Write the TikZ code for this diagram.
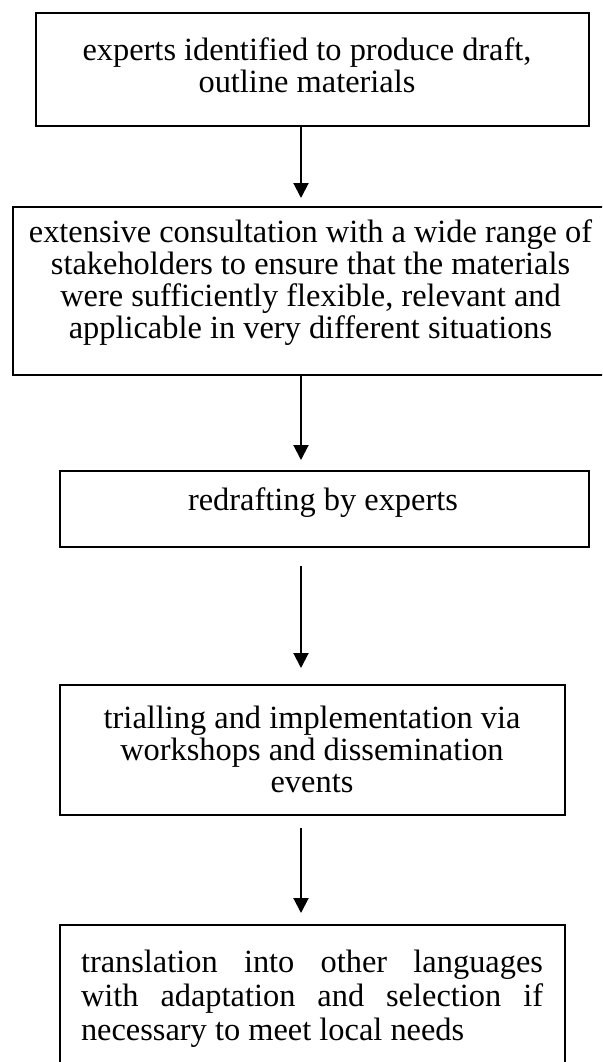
\documentclass[tikz,border=0pt]{standalone}
\usepackage{fontspec}
\setmainfont{Liberation Serif}
\usetikzlibrary{arrows.meta}

\begin{document}
\begin{tikzpicture}[x=0.5pt,y=-0.5pt,
  stagebox/.style={draw=black, line width=1pt, inner sep=0pt, outer sep=0pt},
  steptext/.style={inner sep=0pt, align=center,
    font=\fontsize{16.2pt}{16pt}\selectfont,
    execute at begin node=\strut, execute at end node=\strut},
  flow/.style={draw=black, line width=1pt, -{Triangle[length=7.5pt,width=7.5pt]}}]

\useasboundingbox (0,0) rectangle (602,1062);
\clip (0,0) rectangle (602,1062);

% column along which the arrows run
\coordinate (axis) at (301,0);

% stage frames
\node[stagebox, minimum width=276.5pt, minimum height=56.5pt] (b1) at (312.5,69.5) {};
\node[stagebox, minimum width=297.5pt, minimum height=84pt]   (b2) at (310.5,291) {};
\node[stagebox, minimum width=264.5pt, minimum height=38pt]   (b3) at (324.5,509) {};
\node[stagebox, minimum width=252.5pt, minimum height=65pt]   (b4) at (312.5,750) {};
\node[stagebox, minimum width=252.5pt, minimum height=77.5pt] (b5) at (312.5,1002.5) {};

% stage texts
\node[steptext] (t1) at (307,70) {experts identified to produce draft,\\outline materials};
\node[steptext] (t2) at (310.5,284) {extensive consultation with a wide range of\\
  stakeholders to ensure that the materials\\
  were sufficiently flexible, relevant and\\
  applicable in very different situations};
\node[steptext] (t3) at (323,503.6) {redrafting by experts};
\node[steptext] (t4) at (312,753.6) {trialling and implementation via\\workshops and dissemination\\events};
\node[steptext, align=left, font=\fontsize{16.2pt}{17pt}\selectfont] (t5) at (312,1000) {%
  \makebox[231pt][s]{translation into other languages}\\
  \makebox[231pt][s]{with adaptation and selection if}\\
  necessary to meet local needs};

% connectors
\draw[flow, shorten >=4.5pt] (b1.south -| axis) -- (b2.north -| axis);
\draw[flow, shorten >=5.5pt] (b2.south -| axis) -- (b3.north -| axis);
\draw[flow, shorten <=9.5pt, shorten >=8.5pt] (b3.south -| axis) -- (b4.north -| axis);
\draw[flow, shorten <=6.5pt, shorten >=6pt] (b4.south -| axis) -- (b5.north -| axis);
\end{tikzpicture}
\end{document}
